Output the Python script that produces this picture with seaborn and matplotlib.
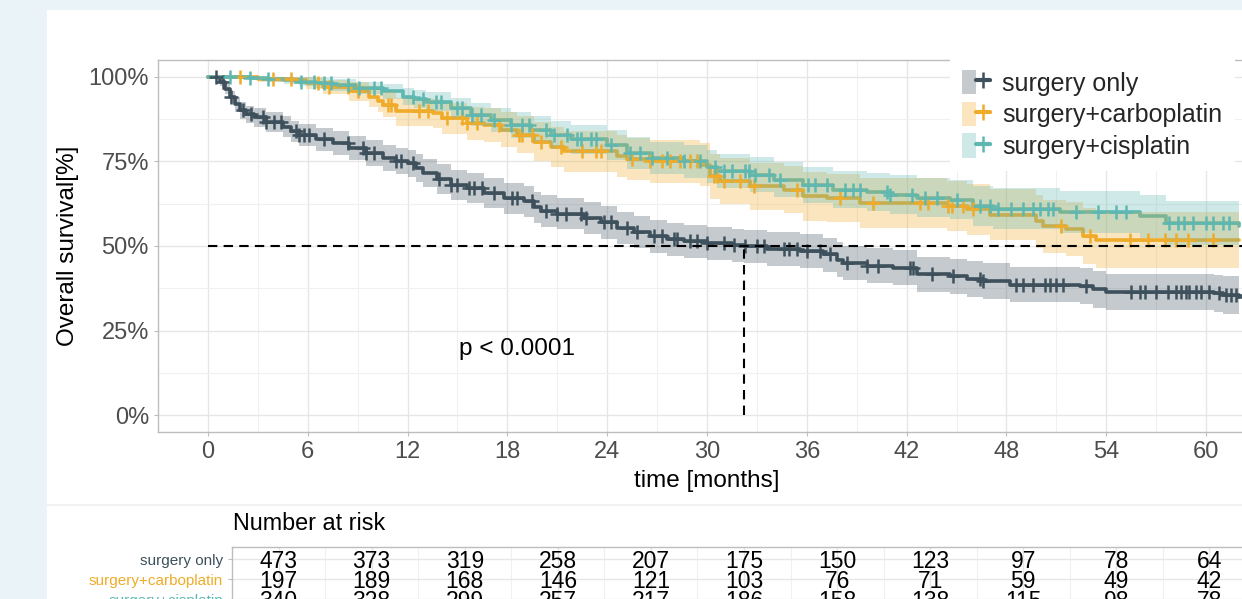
import matplotlib
matplotlib.use("Agg")
import matplotlib.pyplot as plt
import matplotlib.ticker as mticker
import matplotlib.transforms as mtransforms
from matplotlib.patches import Rectangle, Patch
from matplotlib.lines import Line2D
from matplotlib.legend_handler import HandlerTuple
import numpy as np
import pandas as pd
import seaborn as sns

groups = ["surgery only", "surgery+carboplatin", "surgery+cisplatin"]
colors = ["#3D505C", "#EFAB2A", "#5EB8B1"]

# Kaplan-Meier steps (months, survival %)
only_t = [0, 0.7, 1.0, 1.3, 1.6, 1.9, 2.3, 2.8, 3.5, 4.5, 5.0, 5.5, 6.5, 7.5, 8.5, 9.5, 10.5, 11.3,
          12.0, 12.5, 12.9, 13.8, 14.6, 15.6, 16.6, 17.8, 19.0, 19.6, 20.0, 21.0, 22.6, 23.6, 24.6,
          25.6, 26.6, 27.6, 28.6, 30.0, 31.5, 32.2, 33.6, 35.6, 37.0, 37.8, 38.2, 39.6, 41.2, 42.6,
          44.6, 45.6, 46.6, 48.2, 52.4, 53.2, 54.0, 60.5, 61.0, 62.0]
only_s = [100, 98.5, 96.5, 94.2, 92.0, 90.3, 89.0, 88.0, 86.8, 85.3, 84.0, 82.9, 81.6, 80.4, 79.0,
          77.5, 76.0, 75.2, 74.5, 73.0, 71.6, 69.8, 68.1, 67.2, 65.7, 64.2, 63.2, 61.5, 60.3, 59.6,
          58.3, 57.0, 55.4, 54.2, 52.9, 52.0, 51.4, 50.8, 50.2, 49.9, 49.0, 48.5, 47.5, 46.0, 45.0,
          44.2, 43.6, 41.6, 41.1, 40.2, 39.6, 38.6, 38.1, 37.2, 36.4, 36.0, 35.5, 35.0]
only_lo = [100, 97.3, 94.8, 92.2, 89.7, 87.7, 86.3, 85.1, 83.8, 82.1, 80.7, 79.5, 78.1, 76.8, 75.3,
           73.7, 72.1, 71.2, 70.4, 68.9, 67.4, 65.5, 63.7, 62.8, 61.2, 59.6, 58.6, 56.8, 55.6, 54.9,
           53.6, 52.2, 50.6, 49.4, 48.0, 47.1, 46.5, 45.9, 45.2, 44.9, 44.0, 43.5, 42.4, 40.9, 39.9,
           39.1, 38.4, 36.4, 35.9, 35.0, 34.3, 33.3, 32.8, 31.8, 31.0, 30.5, 30.0, 29.5]
only_hi = [100, 99.4, 97.8, 95.9, 94.0, 92.6, 91.5, 90.7, 89.6, 88.3, 87.1, 86.2, 85.0, 83.9, 82.6,
           81.2, 79.8, 79.1, 78.5, 77.1, 75.8, 74.1, 72.5, 71.6, 70.2, 68.7, 67.8, 66.1, 65.0, 64.3,
           63.0, 61.7, 60.2, 59.0, 57.7, 56.9, 56.3, 55.7, 55.1, 54.8, 54.0, 53.5, 52.5, 51.1, 50.1,
           49.3, 48.7, 46.8, 46.3, 45.5, 44.9, 43.9, 43.5, 42.6, 41.8, 41.5, 41.0, 40.6]

carbo_t = [0, 3.0, 5.1, 5.9, 6.9, 8.5, 9.7, 10.2, 10.5, 11.3, 13.5, 14.1, 15.6, 16.6, 17.6, 18.6,
           19.6, 20.6, 21.4, 24.6, 25.2, 26.6, 29.6, 30.2, 30.8, 32.6, 34.6, 35.8, 37.2, 39.2, 44.4,
           45.6, 47.0, 49.8, 50.2, 51.6, 52.6, 53.4, 62.0]
carbo_s = [100, 99.5, 99.1, 98.1, 97.0, 95.7, 94.2, 93.0, 91.7, 89.8, 89.3, 87.8, 86.3, 85.8, 84.4,
           82.9, 80.9, 79.4, 78.0, 76.7, 75.7, 75.0, 74.0, 70.6, 69.1, 67.6, 66.7, 64.7, 64.2, 62.7,
           61.9, 60.8, 59.3, 57.3, 55.8, 54.9, 52.9, 51.9, 51.9]
carbo_lo = [100, 98.5, 97.8, 96.3, 94.8, 93.0, 91.1, 89.6, 88.0, 85.6, 85.0, 83.2, 81.4, 80.8, 79.2,
            77.5, 75.2, 73.5, 72.0, 70.5, 69.4, 68.7, 67.6, 63.9, 62.3, 60.7, 59.7, 57.5, 57.0, 55.4,
            54.5, 53.3, 51.7, 49.5, 47.9, 46.9, 44.7, 43.6, 43.6]
carbo_hi = [100, 100, 100, 99.9, 99.2, 98.4, 97.3, 96.4, 95.4, 93.8, 93.4, 92.4, 91.2, 90.8, 89.6,
            88.3, 86.6, 85.3, 84.0, 82.9, 82.0, 81.3, 80.4, 77.3, 75.9, 74.5, 73.7, 71.9, 71.4, 70.0,
            69.3, 68.3, 66.9, 65.1, 63.7, 62.9, 61.1, 60.2, 60.2]

cis_t = [0, 2.5, 3.6, 4.6, 5.5, 6.5, 7.5, 8.9, 10.5, 11.7, 12.4, 13.1, 14.6, 15.8, 17.0, 18.2, 19.4,
         20.6, 21.8, 24.0, 25.2, 26.6, 28.6, 30.0, 30.6, 32.6, 34.0, 35.8, 37.6, 39.6, 41.0, 42.6,
         44.6, 46.0, 47.2, 51.2, 56.0, 57.6, 62.0]
cis_s = [100, 99.7, 99.4, 99.0, 98.6, 98.1, 97.6, 96.7, 95.7, 94.2, 93.4, 92.7, 90.8, 88.8, 87.3,
         85.8, 84.4, 82.9, 81.6, 79.9, 77.5, 76.0, 75.0, 73.5, 72.1, 71.1, 69.6, 68.1, 66.7, 65.9,
         65.2, 64.2, 63.7, 61.7, 61.0, 60.0, 58.8, 56.8, 56.0]
cis_lo = [100, 99.1, 98.6, 98.0, 97.3, 96.6, 95.9, 94.8, 93.5, 91.7, 90.8, 89.9, 87.7, 85.4, 83.7,
          82.0, 80.4, 78.8, 77.3, 75.5, 72.9, 71.3, 70.2, 68.6, 67.1, 66.0, 64.4, 62.8, 61.3, 60.4,
          59.6, 58.5, 57.9, 55.8, 55.0, 53.9, 52.5, 50.3, 49.4]
cis_hi = [100, 100, 100, 100, 99.9, 99.6, 99.3, 98.6, 97.9, 96.7, 96.1, 95.5, 93.9, 92.2, 90.9,
          89.6, 88.4, 87.1, 85.9, 84.4, 82.2, 80.8, 79.9, 78.5, 77.2, 76.3, 74.9, 73.5, 72.2, 71.5,
          70.9, 70.0, 69.5, 67.7, 67.1, 66.2, 65.2, 63.4, 62.7]

# censoring times (months)
only_cens = [0.5, 0.9, 1.4, 2.1, 2.6, 3.3, 3.5, 4.0, 4.4, 5.3, 5.5, 5.8, 6.1, 7.0, 8.4, 9.3, 9.5,
             10.0, 11.3, 11.6, 12.3, 13.9, 14.6, 15.0, 15.7, 16.0, 16.5, 17.2, 18.3, 18.6, 19.5,
             20.3, 21.0, 21.5, 22.4, 22.7, 23.8, 24.2, 25.2, 25.8, 26.8, 27.3, 28.0, 28.2, 29.0,
             29.4, 30.0, 31.0, 31.6, 32.3, 33.0, 33.4, 34.6, 34.9, 35.4, 36.0, 36.8, 37.4, 38.4,
             39.6, 40.3, 42.2, 42.4, 43.5, 44.8, 46.4, 46.6, 48.6, 49.0, 49.6, 50.3, 50.6, 51.0,
             51.4, 52.8, 55.5, 56.0, 56.3, 57.0, 57.7, 58.2, 58.5, 58.8, 59.0, 59.4, 59.7, 60.2,
             60.8, 61.2, 61.5, 61.8, 62.2]
carbo_cens = [1.9, 3.9, 5.0, 6.6, 7.3, 8.4, 9.0, 10.8, 11.0, 12.7, 13.2, 14.4, 15.3, 15.6, 16.2,
              17.5, 18.7, 18.9, 19.5, 20.0, 21.2, 22.5, 23.3, 23.6, 25.5, 26.6, 27.3, 27.8, 28.4,
              29.0, 29.4, 30.4, 30.6, 31.0, 32.0, 32.8, 35.4, 38.0, 40.0, 42.8, 43.3, 44.5, 44.7,
              45.4, 46.0, 51.3, 53.0, 55.4, 56.5, 57.5, 58.2, 58.9, 60.4]
cis_cens = [1.3, 2.5, 3.6, 5.6, 6.4, 7.0, 7.4, 8.4, 9.1, 10.0, 10.4, 12.3, 12.9, 13.7, 14.0, 15.0,
            15.3, 15.9, 16.4, 17.2, 18.2, 18.9, 19.3, 20.3, 20.8, 21.6, 22.2, 22.4, 23.0, 23.3,
            24.2, 25.4, 26.0, 26.7, 27.6, 28.6, 29.6, 30.5, 31.0, 31.5, 32.3, 32.5, 32.9, 33.7,
            34.4, 36.1, 36.5, 37.2, 38.3, 38.8, 39.2, 40.8, 41.0, 42.3, 43.1, 43.8, 45.0, 46.4,
            47.0, 47.5, 48.3, 49.0, 49.6, 50.0, 50.5, 50.8, 52.2, 53.5, 54.6, 55.2, 57.8, 58.3,
            58.7, 59.2, 60.0, 60.4, 61.0, 61.4]

median_only = 32.2

risk_times = [0, 6, 12, 18, 24, 30, 36, 42, 48, 54, 60]
risk_only = [473, 373, 319, 258, 207, 175, 150, 123, 97, 78, 64]
risk_carbo = [197, 189, 168, 146, 121, 103, 76, 71, 59, 49, 42]
risk_cis = [340, 328, 299, 257, 217, 186, 158, 138, 115, 98, 78]

W, H = 1242, 599
GRID = "#e6e6e6"
BORDER = "#bdbdbd"

sns.set_theme(style="whitegrid")
plt.rcParams['font.family'] = ['Liberation Sans', 'DejaVu Sans']

fig = plt.figure(figsize=(W / 100, H / 100), dpi=100)
fig.patch.set_facecolor("#eaf3f7")
fig.add_artist(Rectangle((47 / W, 0), 1 - 47 / W, 1 - 10 / H, transform=fig.transFigure,
                         facecolor="white", edgecolor="none", zorder=0))
fig.add_artist(Line2D([47 / W, 1], [1 - 505 / H] * 2, transform=fig.transFigure,
                      color="#f1f1f1", lw=1.5))

# ---- survival panel ----
ax = fig.add_axes([158 / W, 1 - 432 / H, (1256 - 158) / W, (432 - 60) / H])
ax.set_facecolor("white")

steps = [(only_t, only_s, only_lo, only_hi, only_cens),
         (carbo_t, carbo_s, carbo_lo, carbo_hi, carbo_cens),
         (cis_t, cis_s, cis_lo, cis_hi, cis_cens)]

df = pd.concat([pd.DataFrame({"time": st[0], "surv": st[1], "group": g})
                for st, g in zip(steps, groups)], ignore_index=True)
sns.lineplot(data=df, x="time", y="surv", hue="group", palette=colors, estimator=None,
             sort=False, drawstyle="steps-post", lw=2.6, legend=False, ax=ax, zorder=2)

for (t, s, lo, hi, cens), c in zip(steps, colors):
    ax.fill_between(t, lo, hi, step="post", color=c, alpha=0.3, lw=0, zorder=2.5)

for (t, s, lo, hi, cens), c in zip(steps, colors):
    idx = np.searchsorted(t, cens, side="right") - 1
    ax.plot(cens, np.asarray(s)[idx], ls="none", marker="+", ms=9.5, mew=1.8, color=c, zorder=3)

ax.plot([0, 63], [50, 50], color="black", lw=1.5, dashes=(4.5, 3), zorder=4)
ax.plot([median_only, median_only], [0, 50], color="black", lw=1.5, dashes=(4.5, 3), zorder=4)
ax.text(18.6, 19.5, "p < 0.0001", ha="center", va="center", fontsize=17.5, color="black")

ax.set_xlim(-3, 63)
ax.set_ylim(-5, 105)
ax.xaxis.set_major_locator(mticker.FixedLocator(risk_times))
ax.xaxis.set_minor_locator(mticker.FixedLocator([3, 9, 15, 21, 27, 33, 39, 45, 51, 57, 63]))
ax.yaxis.set_major_locator(mticker.FixedLocator([0, 25, 50, 75, 100]))
ax.yaxis.set_minor_locator(mticker.FixedLocator([12.5, 37.5, 62.5, 87.5]))
ax.set_yticklabels(["0%", "25%", "50%", "75%", "100%"])
ax.set_xlabel("")
ax.set_ylabel("")
ax.grid(which="major", color=GRID, lw=1.0)
ax.grid(which="minor", color="#f0f0f0", lw=0.8)
ax.set_axisbelow(True)
ax.tick_params(which="major", length=3, width=0.8, color=BORDER, labelsize=17,
               labelcolor="#4d4d4d", pad=3.5, bottom=True, left=True)
ax.tick_params(which="minor", length=0)
for sp in ax.spines.values():
    sp.set_visible(True)
    sp.set_color(BORDER)
    sp.set_linewidth(1.0)

fig.text(68 / W, 1 - 246 / H, "Overall survival[%]", rotation=90, ha="center", va="center",
         fontsize=17.5, color="black")
fig.text(707 / W, 1 - 481 / H, "time [months]", ha="center", va="center", fontsize=17.5,
         color="black")

handles = [(Patch(facecolor=c, alpha=0.3, edgecolor="none"),
            Line2D([], [], color=c, lw=3, marker="+", ms=11, mew=1.8)) for c in colors]
fig.legend(handles, groups, handler_map={tuple: HandlerTuple(ndivide=None, pad=0)},
           loc="upper left", bbox_to_anchor=(950 / W, 1 - 58 / H), frameon=True,
           facecolor="white", edgecolor="none", framealpha=1, fancybox=False, fontsize=18,
           handlelength=1.12, handleheight=1.12, labelspacing=0.24, borderpad=0.48,
           handletextpad=0.5, borderaxespad=0)

# ---- risk table ----
tax = fig.add_axes([232 / W, 1 - 611 / H, (1256 - 232) / W, 64 / H])
tax.set_facecolor("white")
tax.set_xlim(-3, 63)
tax.set_ylim(2.6, -0.6)
num_tr = mtransforms.offset_copy(tax.transData, fig=fig, y=-2, units="dots")
for i, counts in enumerate([risk_only, risk_carbo, risk_cis]):
    for t, n in zip(risk_times, counts):
        tax.text(t, i, str(n), ha="center", va="center", fontsize=16.5, color="black",
                 transform=num_tr)
tax.xaxis.set_major_locator(mticker.FixedLocator(risk_times))
tax.xaxis.set_minor_locator(mticker.FixedLocator([3, 9, 15, 21, 27, 33, 39, 45, 51, 57, 63]))
tax.set_xticklabels([])
tax.set_yticks([0, 1, 2])
tax.set_yticklabels(groups)
for lab, c in zip(tax.get_yticklabels(), colors):
    lab.set_color(c)
tax.grid(which="major", color=GRID, lw=1.0)
tax.grid(which="minor", color="#f0f0f0", lw=0.8)
tax.set_axisbelow(True)
tax.tick_params(axis="y", length=3, width=0.8, color=BORDER, labelsize=11, pad=3.5, left=True)
tax.tick_params(axis="x", length=0)
tax.tick_params(which="minor", length=0)
for sp in tax.spines.values():
    sp.set_visible(True)
    sp.set_color(BORDER)
    sp.set_linewidth(1.0)

fig.text(233 / W, 1 - 523 / H, "Number at risk", ha="left", va="center", fontsize=16.8,
         color="black")

fig.savefig("out.png", dpi=100, facecolor=fig.get_facecolor())
